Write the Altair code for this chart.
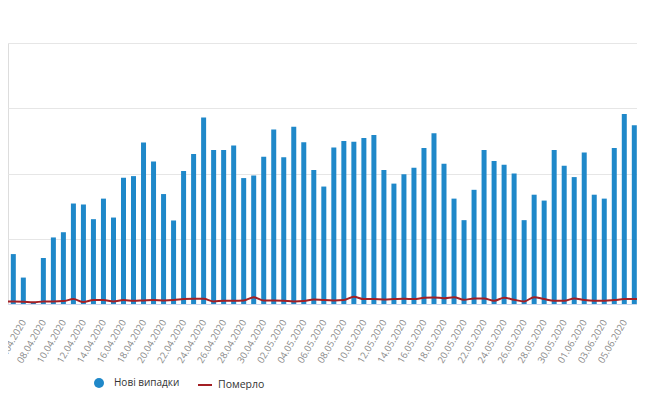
import altair as alt
import pandas as pd

start_date = "2020-04-04"
n_days = 65
dates = pd.date_range(start_date, periods=n_days, freq="D")

new_cases = [173, 153, 81, 5, 141, 204, 220, 308, 305, 260, 323, 265, 387, 392, 495,
             437, 337, 256, 408, 460, 572, 472, 472, 486, 386, 394, 451, 535, 450, 543,
             496, 411, 360, 480, 500, 497, 509, 518, 411, 369, 398, 418, 478, 523, 430,
             323, 257, 350, 472, 438, 427, 400, 257, 335, 317, 472, 424, 389, 464, 335,
             323, 478, 582, 548, 543]
deaths = [8, 8, 7, 5, 8, 8, 9, 15, 6, 12, 12, 8, 12, 10, 11,
          12, 11, 12, 15, 16, 16, 8, 10, 10, 11, 21, 11, 11, 10, 8,
          9, 14, 12, 11, 12, 22, 15, 15, 14, 15, 16, 15, 19, 20, 18,
          21, 13, 17, 17, 10, 19, 13, 8, 21, 15, 10, 10, 17, 12, 10,
          10, 12, 15, 15, 17]
series_names = ["Нові випадки", "Померло"]
y_ticks = [0, 200, 400, 600, 800]

BLUE = "#1f88c9"
RED = "#a31f24"

DAY = 86400000
ms = [int(d.value // 10**6) for d in dates]
df = pd.DataFrame({
    "date": ms,
    "cases": new_cases,
    "deaths": deaths,
    "s1": series_names[0],
    "s2": series_names[1],
})

W, H = 629, 261
px_per_day = 10.016
t0 = ms[0] + (8 - 3.3) / px_per_day * DAY
t1 = t0 + W / px_per_day * DAY
tick_vals = ms[::2]

xscale = alt.Scale(type="utc", domain=[t0, t1], padding=0, nice=False)
yscale = alt.Scale(domain=[0, 800], padding=0, nice=False)


def xaxis():
    return alt.Axis(values=tick_vals, labelExpr="utcFormat(datum.value, '%d.%m.%Y')",
                    labelAngle=-60, labelAlign="right", labelBaseline="middle",
                    labelPadding=16, labelFontSize=9.5, labelColor="#888888",
                    labelFont="Open Sans", ticks=False, grid=False, title=None,
                    domainColor="#ccd6eb", labelOverlap=False, labelBound=False,
                    labelFlush=False)


def yaxis():
    return alt.Axis(values=y_ticks, labels=False, ticks=False, domain=False,
                    grid=True, gridColor="#e6e6e6", title=None)


bars = alt.Chart(df).mark_bar(width=5, clip=True).encode(
    x=alt.X("date:T", scale=xscale, axis=xaxis()),
    y=alt.Y("cases:Q", scale=yscale, axis=yaxis()),
    color=alt.Color("s1:N", scale=alt.Scale(domain=[series_names[0]], range=[BLUE]),
                    legend=alt.Legend(orient="none", legendX=85, legendY=334, title=None,
                                      symbolType="circle", symbolSize=100,
                                      labelFont="Open Sans", labelFontSize=10,
                                      labelColor="#333333", labelOffset=9)),
)

line = alt.Chart(df).mark_line(strokeWidth=2, clip=True, interpolate="monotone").encode(
    x=alt.X("date:T", scale=xscale, axis=xaxis()),
    y=alt.Y("deaths:Q", scale=yscale, axis=yaxis()),
    color=alt.Color("s2:N", scale=alt.Scale(domain=[series_names[1]], range=[RED]),
                    legend=alt.Legend(orient="none", legendX=189, legendY=334, title=None,
                                      symbolType="stroke", symbolSize=196,
                                      symbolStrokeWidth=2,
                                      labelFont="Open Sans", labelFontSize=10.5,
                                      labelColor="#333333", labelOffset=5)),
)

chart = alt.layer(bars, line).resolve_scale(color="independent").properties(
    width=W, height=H,
    autosize=alt.AutoSizeParams(type="none"),
    padding={"left": 0, "top": 35, "right": 0, "bottom": 86},
).configure_view(stroke=None).configure_axisX(labelOverlap=False).configure_axisY(
    domain=False, ticks=False).configure(background="white")

chart.save("out.html", embed_options={"renderer": "svg", "actions": False})
